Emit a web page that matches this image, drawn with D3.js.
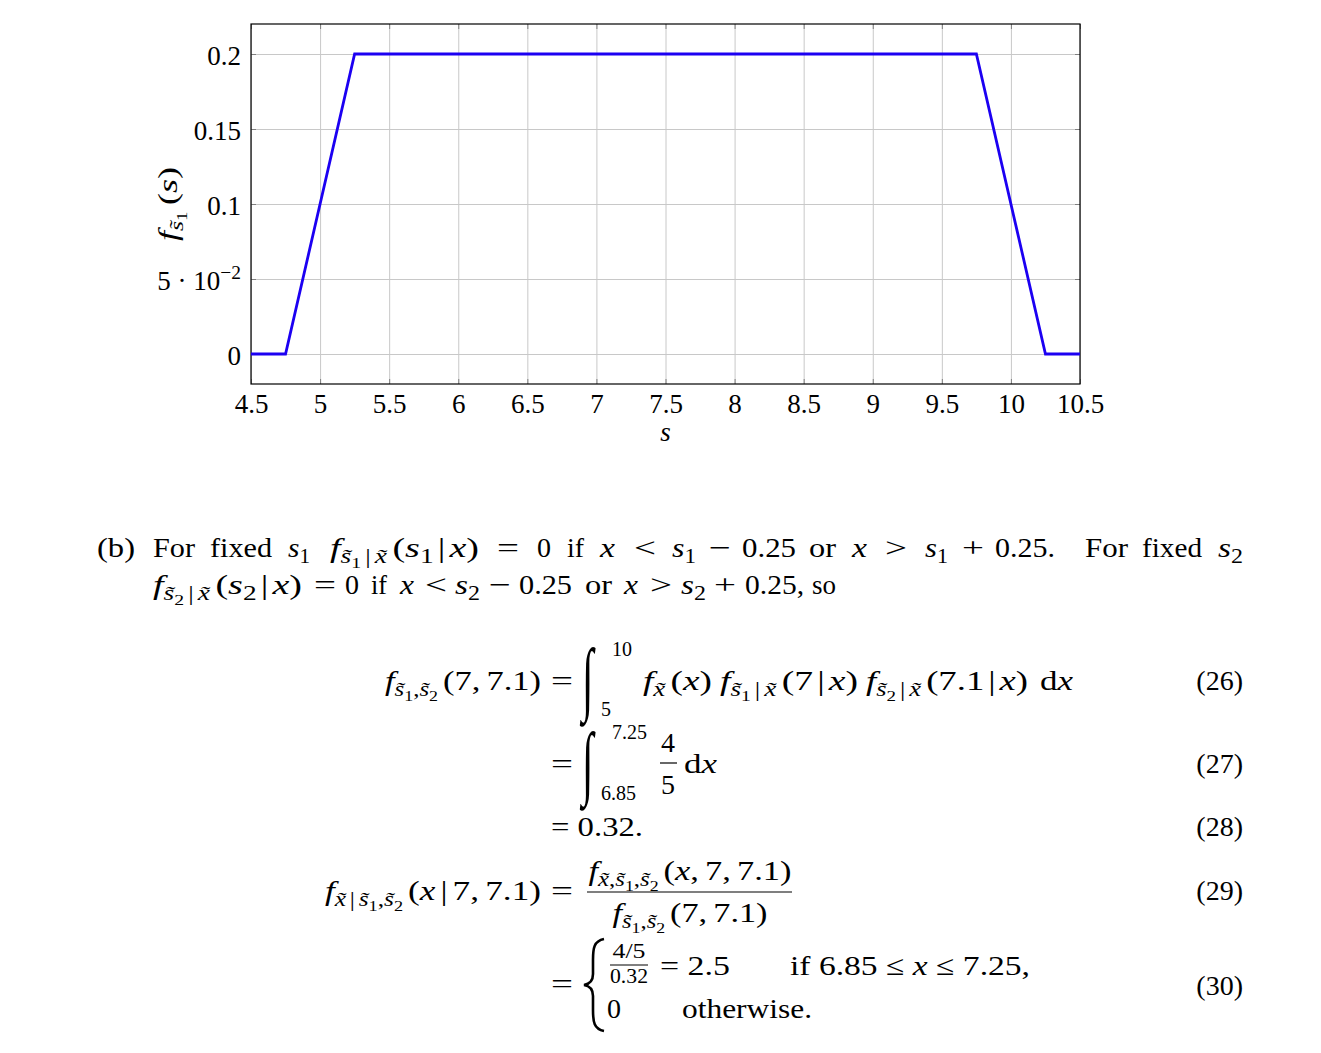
<!DOCTYPE html>
<html><head><meta charset="utf-8">
<script src="https://cdn.jsdelivr.net/npm/d3@7"></script>
<style>
body{margin:0;background:#fff}
svg text{font-family:"Liberation Serif","DejaVu Serif",serif;white-space:pre;fill:#000}
</style></head><body><svg id="c" width="1321" height="1053"></svg>
<script>
// ---------- data ----------
const sValues = [4.5, 4.75, 5.25, 9.75, 10.25, 10.5];
const densityValues = [0, 0, 0.2, 0.2, 0, 0];
const xTickValues = [4.5, 5, 5.5, 6, 6.5, 7, 7.5, 8, 8.5, 9, 9.5, 10, 10.5];
const xTickLabels = ["4.5","5","5.5","6","6.5","7","7.5","8","8.5","9","9.5","10","10.5"];
const yTickValues = [0, 0.05, 0.1, 0.15, 0.2];
const yTickLabels = ["0", "5 · 10^{−2}", "0.1", "0.15", "0.2"];
const xTitle = "$s$";
const yTitle = "$f$_{$s̃$_{1}}[5]($s$)";

const FONT='"Liberation Serif","DejaVu Serif",serif';
// ---------- tiny TeX-like renderer ----------
function parseTex(str, base){
  const segs=[]; const stack=[{size:base,shift:0}]; let it=false; let buf='';
  const flush=()=>{ if(buf){const s=stack[stack.length-1]; segs.push({t:buf,size:s.size,shift:s.shift,it}); buf='';} };
  for(let i=0;i<str.length;i++){
    const c=str[i];
    if((c==='_'||c==='^') && str[i+1]==='{'){
      flush(); const s=stack[stack.length-1];
      stack.push(c==='_'?{size:s.size*0.72,shift:s.shift+s.size*0.22}:{size:s.size*0.72,shift:s.shift-s.size*0.4});
      i++;
    } else if(c==='}'){ flush(); stack.pop(); }
    else if(c==='$'){ flush(); it=!it; }
    else if(c==='['){ flush(); const j=str.indexOf(']',i); segs.push({dx:+str.slice(i+1,j)}); i=j; }
    else buf+=c;
  }
  flush(); return segs;
}
function fillTex(t, str, size){
  let cur=0, pend=0;
  t.attr('font-family',FONT);
  parseTex(str,size).forEach(s=>{
    if(s.dx!==undefined){pend+=s.dx;return;}
    const sp=t.append('tspan').attr('font-size',s.size).attr('dy',s.shift-cur).text(s.t);
    if(pend) sp.attr('dx',pend);
    pend=0;
    if(s.it) sp.attr('font-style','italic');
    cur=s.shift;
  });
  return t;
}
const svg=d3.select('#c');
function T(x,y,str,opt={}){
  const size=opt.size||28;
  const t=svg.append('text').attr('x',x).attr('y',y).attr('font-size',size).attr('text-anchor',opt.anchor||'start');
  fillTex(t,str,size);
  if(opt.w) t.attr('textLength',opt.w).attr('lengthAdjust','spacingAndGlyphs');
  return t;
}

// ---------- chart ----------
const X0=251, X1=1080, Y0=24, Y1=384;
const x=d3.scaleLinear().domain([4.5,10.5]).range([X0,X1]);
const y=d3.scaleLinear().domain([-0.02,0.22]).range([Y1,Y0]);
const plot=svg.append('g');

// grid
plot.append('g').attr('transform',`translate(0,${Y1})`)
  .call(d3.axisBottom(x).tickValues(xTickValues).tickSize(-(Y1-Y0)).tickFormat(''))
  .call(g=>{g.select('.domain').remove(); g.selectAll('line').attr('stroke','#c8c8c8').attr('stroke-width',1);});
plot.append('g').attr('transform',`translate(${X0},0)`)
  .call(d3.axisLeft(y).tickValues(yTickValues).tickSize(-(X1-X0)).tickFormat(''))
  .call(g=>{g.select('.domain').remove(); g.selectAll('line').attr('stroke','#c8c8c8').attr('stroke-width',1);});

// inner tick marks on all four sides
const tk='#808080';
plot.append('g').attr('transform',`translate(0,${Y1})`)
  .call(d3.axisTop(x).tickValues(xTickValues).tickSize(5).tickFormat(''))
  .call(g=>{g.select('.domain').remove(); g.selectAll('line').attr('stroke',tk);});
plot.append('g').attr('transform',`translate(0,${Y0})`)
  .call(d3.axisBottom(x).tickValues(xTickValues).tickSize(5).tickFormat(''))
  .call(g=>{g.select('.domain').remove(); g.selectAll('line').attr('stroke',tk);});
plot.append('g').attr('transform',`translate(${X0},0)`)
  .call(d3.axisRight(y).tickValues(yTickValues).tickSize(5).tickFormat(''))
  .call(g=>{g.select('.domain').remove(); g.selectAll('line').attr('stroke',tk);});
plot.append('g').attr('transform',`translate(${X1},0)`)
  .call(d3.axisLeft(y).tickValues(yTickValues).tickSize(5).tickFormat(''))
  .call(g=>{g.select('.domain').remove(); g.selectAll('line').attr('stroke',tk);});

// tick labels
plot.append('g').attr('transform',`translate(0,${Y1})`)
  .call(d3.axisBottom(x).tickValues(xTickValues).tickSize(0).tickPadding(0).tickFormat((d,i)=>xTickLabels[i]))
  .call(g=>{g.select('.domain').remove(); g.attr('font-size',27).attr('font-family',FONT);
    g.selectAll('text').attr('dy',null).attr('y',29).attr('font-family',FONT);});
plot.append('g').attr('transform',`translate(${X0},0)`)
  .call(d3.axisLeft(y).tickValues(yTickValues).tickSize(0).tickPadding(10).tickFormat(''))
  .call(g=>{g.select('.domain').remove(); g.attr('font-size',27).attr('font-family',FONT);
    g.selectAll('text').attr('dy',null).attr('y',10).each(function(d,i){fillTex(d3.select(this),yTickLabels[i],27);});});

// frame
plot.append('rect').attr('x',X0).attr('y',Y0).attr('width',X1-X0).attr('height',Y1-Y0)
  .attr('fill','none').attr('stroke','#000').attr('stroke-width',1.2);

// line
const pts=sValues.map((s,i)=>[s,densityValues[i]]);
plot.append('path').datum(pts)
  .attr('d',d3.line().x(d=>x(d[0])).y(d=>y(d[1])))
  .attr('fill','none').attr('stroke','#1c00f2').attr('stroke-width',2.8).attr('stroke-linejoin','miter');

// axis titles
T((X0+X1)/2, 441, xTitle, {anchor:'middle', size:27});
const yt=svg.append('text').attr('font-size',27).attr('text-anchor','middle')
  .attr('transform','translate(177,204) rotate(-90)');
fillTex(yt,yTitle,27);
yt.attr('textLength',74).attr('lengthAdjust','spacingAndGlyphs');

// ---------- text (b) ----------
const L1=[[97,"(b)",38],[153,"For",42],[210,"fixed",62],[288,"$s$_{1}",22],
 [330,"$f$_{$s̃$_{1}[3]|[3]$x̃$}[4]($s$_{1}[3]|[3]$x$)",149],[497,"=",22],[537,"0"],[567,"if",17],[600,"$x$",15],
 [634,"<",22],[672,"$s$_{1}",24],[709,"−",22],[742,"0.25",54],[809,"or",27],[852,"$x$",15],[885,">",22],[925,"$s$_{1}",23],
 [962,"+",22],[995,"0.25.",60],[1085,"For",43],[1142,"fixed",60],[1218,"$s$_{2}",25]];
L1.forEach(([px,s,w])=>T(px,557,s,{w}));
const L2=[[153,"$f$_{$s̃$_{2}[3]|[3]$x̃$}[4]($s$_{2}[3]|[3]$x$)",149],[314,"=",22],[345,"0"],[371,"if",16],[400,"$x$",14],
 [425,"<",22],[455,"$s$_{2}",25],[489,"−",22],[519,"0.25",53],[585,"or",27],[624,"$x$",14],[650,">",22],[681,"$s$_{2}",25],
 [714,"+",22],[745,"0.25,",59],[812,"so",24]];
L2.forEach(([px,s,w])=>T(px,594,s,{w}));

// integral sign helper
function integral(xx,yy){
  svg.append('text').attr('transform',`translate(${xx},${yy}) scale(0.95,1.85)`)
    .attr('font-size',44).attr('font-family','"DejaVu Serif",serif').text('∫');
}
// (26)
T(541,690,"$f$_{$s̃$_{1},$s̃$_{2}}[4](7,[5]7.1)",{anchor:'end',w:156});
T(551,690,"=",{w:22});
integral(582,705);
T(612,656,"10",{size:20});
T(601,716,"5",{size:20});
T(643,690,"$f$_{$x̃$}[4]($x$)",{w:69});
T(720,690,"$f$_{$s̃$_{1}[3]|[3]$x̃$}[4](7[3]|[3]$x$)",{w:138});
T(866,690,"$f$_{$s̃$_{2}[3]|[3]$x̃$}[4](7.1[3]|[3]$x$)",{w:162});
T(1040,690,"d$x$",{w:33});
T(1243,690,"(26)",{anchor:'end'});
// (27)
T(551,773,"=",{w:22});
integral(582,789);
T(612,739,"7.25",{size:20});
T(601,800,"6.85",{size:20});
T(668,752,"4",{anchor:'middle'});
svg.append('line').attr('x1',660).attr('x2',677).attr('y1',763).attr('y2',763).attr('stroke','#000').attr('stroke-width',1.2);
T(668,794,"5",{anchor:'middle'});
T(684,773,"d$x$",{w:33});
T(1243,773,"(27)",{anchor:'end'});
// (28)
T(551,836,"= 0.32.",{w:92});
T(1243,836,"(28)",{anchor:'end'});
// (29)
T(541,900,"$f$_{$x̃$[3]|[3]$s̃$_{1},$s̃$_{2}}[4]($x$[4]|[4]7,[5]7.1)",{anchor:'end',w:216});
T(551,900,"=",{w:22});
T(690,880,"$f$_{$x̃$,$s̃$_{1},$s̃$_{2}}[4]($x$,[5]7,[5]7.1)",{anchor:'middle',w:203});
svg.append('line').attr('x1',587).attr('x2',792).attr('y1',892).attr('y2',892).attr('stroke','#000').attr('stroke-width',1.2);
T(690,922,"$f$_{$s̃$_{1},$s̃$_{2}}[4](7,[5]7.1)",{anchor:'middle',w:155});
T(1243,900,"(29)",{anchor:'end'});
// (30)
T(551,993,"=",{w:22});
svg.append('path').attr('d','M604,939 C594,941 593,948 593,960 L593,974 C593,981 590,984 584,985 C590,986 593,989 593,996 L593,1010 C593,1022 594,1029 604,1031')
  .attr('fill','none').attr('stroke','#000').attr('stroke-width',2.6);
T(629,958,"4/5",{anchor:'middle',size:20,w:33});
svg.append('line').attr('x1',610).attr('x2',648).attr('y1',965).attr('y2',965).attr('stroke','#000').attr('stroke-width',1);
T(629,983,"0.32",{anchor:'middle',size:20,w:38});
T(660,975,"= 2.5",{w:70});
T(790,975,"if 6.85 ≤ $x$ ≤ 7.25,",{w:240});
T(607,1018,"0");
T(682,1018,"otherwise.",{w:130});
T(1243,995,"(30)",{anchor:'end'});
</script></body></html>
